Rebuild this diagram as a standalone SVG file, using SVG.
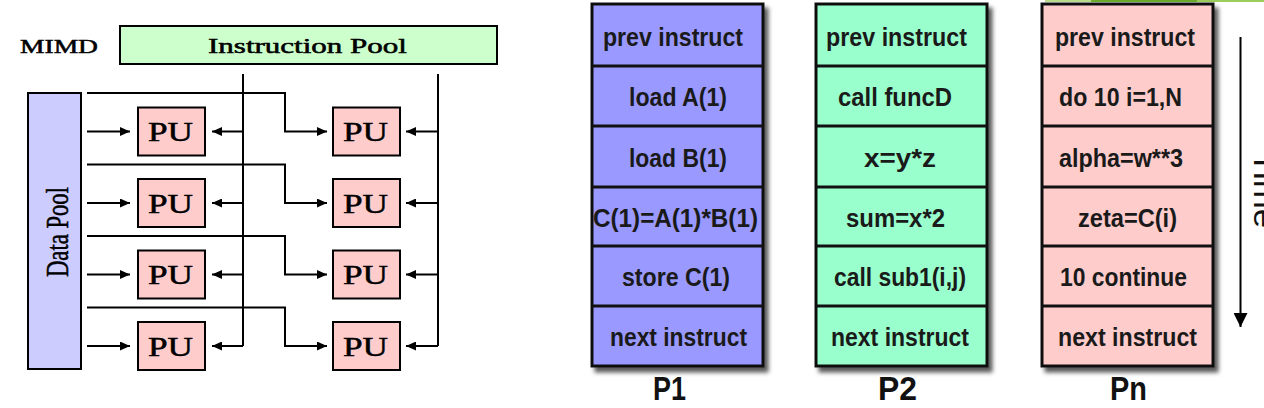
<svg xmlns="http://www.w3.org/2000/svg" width="1264" height="408" viewBox="0 0 1264 408">
<style>
.serif{font-family:"Liberation Serif","Times New Roman",serif;fill:#000;stroke:#000;stroke-width:0.5}
.box{stroke:#000;stroke-width:2}
.pu{fill:#ffcccc}
.ln{fill:none;stroke:#000;stroke-width:2}
.arr{marker-end:url(#ah)}
.col{stroke:#111;stroke-width:3}
.sep{stroke:#111;stroke-width:3}
.ct{font-family:"Liberation Sans",Arial,sans-serif;font-weight:bold;font-size:25px;fill:#1a1a1a}
.lbl{font-family:"Liberation Sans",Arial,sans-serif;font-weight:bold;font-size:33px;fill:#111}
</style>
<defs>
<marker id="ah" markerUnits="userSpaceOnUse" markerWidth="10" markerHeight="9" refX="10" refY="4.5" orient="auto"><path d="M0,0 L10,4.5 L0,9 z" fill="#000"/></marker>
<marker id="ahT" markerUnits="userSpaceOnUse" markerWidth="14" markerHeight="14" refX="14" refY="7" orient="auto"><path d="M0,0 L14,7 L0,14 z" fill="#000"/></marker>
<filter id="sh" x="-10%" y="-10%" width="130%" height="130%"><feDropShadow dx="4" dy="5" stdDeviation="2" flood-color="#000" flood-opacity="0.65"/></filter>
</defs>
<rect width="1264" height="408" fill="#fff"/>
<g id="topline">
<line x1="1045" y1="1" x2="1091" y2="1" stroke="#b8dc8c" stroke-width="2"/>
<line x1="1091" y1="1" x2="1197" y2="1" stroke="#6aaa2a" stroke-width="2"/>
<line x1="1197" y1="1" x2="1264" y2="1" stroke="#9acd5a" stroke-width="2"/>
</g>

<!-- Left: MIMD -->
<g id="mimd-label"><text class="serif" x="20" y="53" font-size="19" textLength="78" lengthAdjust="spacingAndGlyphs">MIMD</text></g>
<g id="instruction-pool"><rect class="box" x="120" y="26" width="377" height="38" fill="#ccffcc"/><text class="serif" x="208" y="53" font-size="20" textLength="199" lengthAdjust="spacingAndGlyphs">Instruction Pool</text></g>
<g id="data-pool"><rect class="box" x="28" y="93" width="53" height="276" fill="#ccccff"/><text class="serif" font-size="32" text-anchor="middle" textLength="90" lengthAdjust="spacingAndGlyphs" transform="translate(68,232) rotate(-90)">Data Pool</text></g>

<g id="pu-1-1"><rect class="box pu" x="138" y="107.5" width="67" height="48"/><text class="serif" x="148" y="141" font-size="28" textLength="45" lengthAdjust="spacingAndGlyphs">PU</text></g>
<g id="pu-1-2"><rect class="box pu" x="333" y="107.5" width="67" height="48"/><text class="serif" x="343" y="141" font-size="28" textLength="45" lengthAdjust="spacingAndGlyphs">PU</text></g>
<g id="pu-2-1"><rect class="box pu" x="138" y="179" width="67" height="48"/><text class="serif" x="148" y="212.5" font-size="28" textLength="45" lengthAdjust="spacingAndGlyphs">PU</text></g>
<g id="pu-2-2"><rect class="box pu" x="333" y="179" width="67" height="48"/><text class="serif" x="343" y="212.5" font-size="28" textLength="45" lengthAdjust="spacingAndGlyphs">PU</text></g>
<g id="pu-3-1"><rect class="box pu" x="138" y="250.5" width="67" height="48"/><text class="serif" x="148" y="284" font-size="28" textLength="45" lengthAdjust="spacingAndGlyphs">PU</text></g>
<g id="pu-3-2"><rect class="box pu" x="333" y="250.5" width="67" height="48"/><text class="serif" x="343" y="284" font-size="28" textLength="45" lengthAdjust="spacingAndGlyphs">PU</text></g>
<g id="pu-4-1"><rect class="box pu" x="138" y="322" width="67" height="48"/><text class="serif" x="148" y="355.5" font-size="28" textLength="45" lengthAdjust="spacingAndGlyphs">PU</text></g>
<g id="pu-4-2"><rect class="box pu" x="333" y="322" width="67" height="48"/><text class="serif" x="343" y="355.5" font-size="28" textLength="45" lengthAdjust="spacingAndGlyphs">PU</text></g>

<g id="connectors">
<path class="ln" d="M243,74 V346"/>
<path class="ln" d="M438,74 V346"/>
<path class="ln arr" d="M87,131.5 H130"/>
<path class="ln arr" d="M87,203 H130"/>
<path class="ln arr" d="M87,274.5 H130"/>
<path class="ln arr" d="M87,346 H130"/>
<path class="ln arr" d="M243,131.5 H212"/>
<path class="ln arr" d="M243,203 H212"/>
<path class="ln arr" d="M243,274.5 H212"/>
<path class="ln arr" d="M243,346 H212"/>
<path class="ln arr" d="M87,93 H285 V131.5 H327"/>
<path class="ln arr" d="M87,164.5 H285 V203 H327"/>
<path class="ln arr" d="M87,236 H285 V274.5 H327"/>
<path class="ln arr" d="M87,307.5 H285 V346 H327"/>
<path class="ln arr" d="M438,131.5 H406"/>
<path class="ln arr" d="M438,203 H406"/>
<path class="ln arr" d="M438,274.5 H406"/>
<path class="ln arr" d="M438,346 H406"/>
<path class="ln" d="M1240.5,37 V327" stroke-width="2.2" marker-end="url(#ahT)"/>
</g>

<!-- Right: processors -->
<g id="col-p1">
<rect class="col" x="592" y="4" width="171" height="362" fill="#9999ff" filter="url(#sh)"/>
<line class="sep" x1="592" y1="66" x2="763" y2="66"/><line class="sep" x1="592" y1="126" x2="763" y2="126"/><line class="sep" x1="592" y1="187" x2="763" y2="187"/><line class="sep" x1="592" y1="246" x2="763" y2="246"/><line class="sep" x1="592" y1="306" x2="763" y2="306"/>
<text class="ct" x="603" y="46" textLength="140" lengthAdjust="spacingAndGlyphs">prev instruct</text>
<text class="ct" x="629" y="106" textLength="98" lengthAdjust="spacingAndGlyphs">load A(1)</text>
<text class="ct" x="629" y="166.5" textLength="98" lengthAdjust="spacingAndGlyphs">load B(1)</text>
<text class="ct" x="593" y="226.5" textLength="165" lengthAdjust="spacingAndGlyphs">C(1)=A(1)*B(1)</text>
<text class="ct" x="622" y="286" textLength="108" lengthAdjust="spacingAndGlyphs">store C(1)</text>
<text class="ct" x="610" y="346" textLength="137" lengthAdjust="spacingAndGlyphs">next instruct</text>
<text class="lbl" x="653" y="400" textLength="33" lengthAdjust="spacingAndGlyphs">P1</text>
</g>
<g id="col-p2">
<rect class="col" x="816" y="4" width="171" height="362" fill="#99ffcc" filter="url(#sh)"/>
<line class="sep" x1="816" y1="66" x2="987" y2="66"/><line class="sep" x1="816" y1="126" x2="987" y2="126"/><line class="sep" x1="816" y1="187" x2="987" y2="187"/><line class="sep" x1="816" y1="246" x2="987" y2="246"/><line class="sep" x1="816" y1="306" x2="987" y2="306"/>
<text class="ct" x="826" y="46" textLength="141" lengthAdjust="spacingAndGlyphs">prev instruct</text>
<text class="ct" x="838" y="106" textLength="114" lengthAdjust="spacingAndGlyphs">call funcD</text>
<text class="ct" x="864" y="166.5" textLength="72" lengthAdjust="spacingAndGlyphs">x=y*z</text>
<text class="ct" x="846" y="226.5" textLength="99" lengthAdjust="spacingAndGlyphs">sum=x*2</text>
<text class="ct" x="834" y="286" textLength="132" lengthAdjust="spacingAndGlyphs">call sub1(i,j)</text>
<text class="ct" x="831" y="346" textLength="138" lengthAdjust="spacingAndGlyphs">next instruct</text>
<text class="lbl" x="878" y="400" textLength="39" lengthAdjust="spacingAndGlyphs">P2</text>
</g>
<g id="col-pn">
<rect class="col" x="1042" y="4" width="171" height="362" fill="#ffcccc" filter="url(#sh)"/>
<line class="sep" x1="1042" y1="66" x2="1213" y2="66"/><line class="sep" x1="1042" y1="126" x2="1213" y2="126"/><line class="sep" x1="1042" y1="187" x2="1213" y2="187"/><line class="sep" x1="1042" y1="246" x2="1213" y2="246"/><line class="sep" x1="1042" y1="306" x2="1213" y2="306"/>
<text class="ct" x="1055" y="46" textLength="140" lengthAdjust="spacingAndGlyphs">prev instruct</text>
<text class="ct" x="1059" y="106" textLength="123" lengthAdjust="spacingAndGlyphs">do 10 i=1,N</text>
<text class="ct" x="1059" y="166.5" textLength="124" lengthAdjust="spacingAndGlyphs">alpha=w**3</text>
<text class="ct" x="1078" y="226.5" textLength="99" lengthAdjust="spacingAndGlyphs">zeta=C(i)</text>
<text class="ct" x="1060" y="286" textLength="127" lengthAdjust="spacingAndGlyphs">10 continue</text>
<text class="ct" x="1058" y="346" textLength="139" lengthAdjust="spacingAndGlyphs">next instruct</text>
<text class="lbl" x="1110" y="400" textLength="37" lengthAdjust="spacingAndGlyphs">Pn</text>
</g>
<g id="time-label"><text font-family="Liberation Sans, Arial, sans-serif" font-size="32" fill="#111" textLength="76" lengthAdjust="spacingAndGlyphs" transform="translate(1254,152) rotate(90)">Time</text></g>
</svg>
